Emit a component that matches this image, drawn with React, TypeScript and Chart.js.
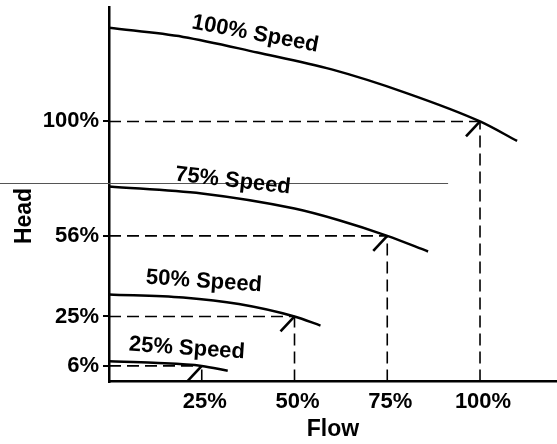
import React, { useEffect, useRef } from 'react';
import { Chart, registerables } from 'chart.js';

Chart.register(...registerables);

// ---- data ----
const FLOW_TICKS = [25, 50, 75, 100];
const HEAD_TICKS = [6, 25, 56, 100];
const SPEED_LABELS = ['100% Speed', '75% Speed', '50% Speed', '25% Speed'];
const X_TITLE = 'Flow';
const Y_TITLE = 'Head';

const CURVE_100_FLOW = [0, 20, 40, 60, 80, 100, 110];
const CURVE_100_HEAD = [136, 132.5, 126.5, 120, 111, 100, 92.5];
const CURVE_75_FLOW = [0, 25, 50, 62, 75, 86];
const CURVE_75_HEAD = [75, 72.3, 66.5, 62, 56, 50];
const CURVE_50_FLOW = [0, 20, 35, 50, 57];
const CURVE_50_HEAD = [33.5, 32.3, 29.8, 25, 21.5];
const CURVE_25_FLOW = [0, 12, 25, 32];
const CURVE_25_HEAD = [7.8, 7.2, 6, 4.1];

const OP_FLOW = [100, 75, 50, 25];
const OP_HEAD = [100, 56, 25, 6];

// faint horizontal scan line present in the original image
const SCAN_LINE_HEAD = 76.3;
const SCAN_LINE_END_FLOW = 91.4;

// ---- layout / style (not data) ----
const LABEL_FLOW = [39.4, 33.4, 25.6, 21];
const LABEL_HEAD = [133.6, 77.1, 38.5, 12.7];
const LABEL_ANGLE = [10.6, 6.5, 3.9, 3.9];
const FONT = "'Liberation Sans', Arial, Helvetica, sans-serif";

const zip = (xs: number[], ys: number[]) => xs.map((x, i) => ({ x, y: ys[i] }));

export default function App() {
  const ref = useRef<HTMLCanvasElement | null>(null);

  useEffect(() => {
    if (!ref.current) return;
    const curves = [
      zip(CURVE_100_FLOW, CURVE_100_HEAD),
      zip(CURVE_75_FLOW, CURVE_75_HEAD),
      zip(CURVE_50_FLOW, CURVE_50_HEAD),
      zip(CURVE_25_FLOW, CURVE_25_HEAD),
    ];
    const datasets: any[] = curves.map((d, i) => ({
      label: SPEED_LABELS[i],
      data: d,
      borderColor: '#000',
      borderWidth: 2.5,
      pointRadius: 0,
      cubicInterpolationMode: 'monotone',
      fill: false,
    }));
    OP_FLOW.forEach((f, i) => {
      const h = OP_HEAD[i];
      datasets.push({
        label: 'h' + i,
        data: [{ x: 0, y: h }, { x: f, y: h }],
        borderColor: '#000',
        borderWidth: 1.6,
        borderDash: [12, 6],
        pointRadius: 0,
        fill: false,
      });
      datasets.push({
        label: 'v' + i,
        data: [{ x: f, y: 0 }, { x: f, y: h }],
        borderColor: '#000',
        borderWidth: 1.6,
        borderDash: [12, 6],
        pointRadius: 0,
        fill: false,
      });
    });

    const overlay = {
      id: 'overlay',
      afterDatasetsDraw(chart: any) {
        const { ctx, chartArea, scales } = chart;
        const xs = scales.x;
        const ys = scales.y;
        ctx.save();
        // scan line
        ctx.strokeStyle = '#555';
        ctx.lineWidth = 1;
        const sy = Math.round(ys.getPixelForValue(SCAN_LINE_HEAD)) + 0.5;
        ctx.beginPath();
        ctx.moveTo(0, sy);
        ctx.lineTo(xs.getPixelForValue(SCAN_LINE_END_FLOW), sy);
        ctx.stroke();

        // arrowheads (clipped to chart area)
        ctx.save();
        ctx.beginPath();
        ctx.rect(chartArea.left, chartArea.top, chartArea.right - chartArea.left, chartArea.bottom - chartArea.top);
        ctx.clip();
        ctx.strokeStyle = '#000';
        ctx.lineWidth = 2.6;
        OP_FLOW.forEach((f, i) => {
          const px = xs.getPixelForValue(f);
          const py = ys.getPixelForValue(OP_HEAD[i]);
          ctx.beginPath();
          ctx.moveTo(px, py);
          ctx.lineTo(px - 14, py + 15);
          ctx.stroke();
        });
        ctx.restore();

        // speed labels
        ctx.fillStyle = '#000';
        ctx.font = `bold 22px ${FONT}`;
        ctx.textAlign = 'center';
        ctx.textBaseline = 'middle';
        SPEED_LABELS.forEach((t, i) => {
          const px = xs.getPixelForValue(LABEL_FLOW[i]);
          const py = ys.getPixelForValue(LABEL_HEAD[i]);
          ctx.save();
          ctx.translate(px, py);
          ctx.rotate((LABEL_ANGLE[i] * Math.PI) / 180);
          ctx.fillText(t, 0, 0);
          ctx.restore();
        });

        // y-axis title
        ctx.font = `bold 23px ${FONT}`;
        ctx.save();
        ctx.translate(25, 216);
        ctx.rotate(-Math.PI / 2);
        ctx.fillText(Y_TITLE, 0, 0);
        ctx.restore();
        ctx.restore();
      },
    };

    const chart = new Chart(ref.current, {
      type: 'line',
      data: { datasets },
      plugins: [overlay],
      options: {
        animation: false,
        responsive: true,
        maintainAspectRatio: false,
        layout: { padding: { top: 7, right: 0, bottom: 0, left: 0 } },
        plugins: { legend: { display: false }, tooltip: { enabled: false } },
        scales: {
          x: {
            type: 'linear',
            min: 0,
            max: 120.75,
            afterBuildTicks: (s: any) => {
              s.ticks = FLOW_TICKS.map((v) => ({ value: v }));
            },
            afterFit: (s: any) => {
              s.height = 62.5;
              s.paddingLeft = 0;
              s.paddingRight = 0;
            },
            grid: { display: false, drawTicks: false },
            border: { display: true, color: '#000', width: 2.5 },
            ticks: {
              padding: 7,
              labelOffset: 3,
              color: '#000',
              font: { family: FONT, size: 22, weight: 'bold' },
              callback: (v: any) => v + '%',
              maxRotation: 0,
            },
            title: {
              display: true,
              text: X_TITLE,
              color: '#000',
              font: { family: FONT, size: 23, weight: 'bold' },
              padding: { top: 0, bottom: 1 },
            },
          },
          y: {
            type: 'linear',
            min: 0,
            max: 144,
            afterBuildTicks: (s: any) => {
              s.ticks = HEAD_TICKS.map((v) => ({ value: v }));
            },
            afterFit: (s: any) => {
              s.width = 109;
              s.paddingTop = 0;
              s.paddingBottom = 0;
            },
            grid: { drawOnChartArea: false, drawTicks: true, tickLength: 6, color: '#000', lineWidth: 2 },
            border: { display: true, color: '#000', width: 2.5 },
            ticks: {
              padding: 4,
              color: '#000',
              font: { family: FONT, size: 22, weight: 'bold' },
              callback: (v: any) => v + '%',
            },
            title: { display: false },
          },
        },
      },
    });
    return () => chart.destroy();
  }, []);

  return (
    <div style={{ position: 'absolute', left: 0, top: 0, width: 557, height: 444, background: '#fff' }}>
      <canvas ref={ref} />
    </div>
  );
}
